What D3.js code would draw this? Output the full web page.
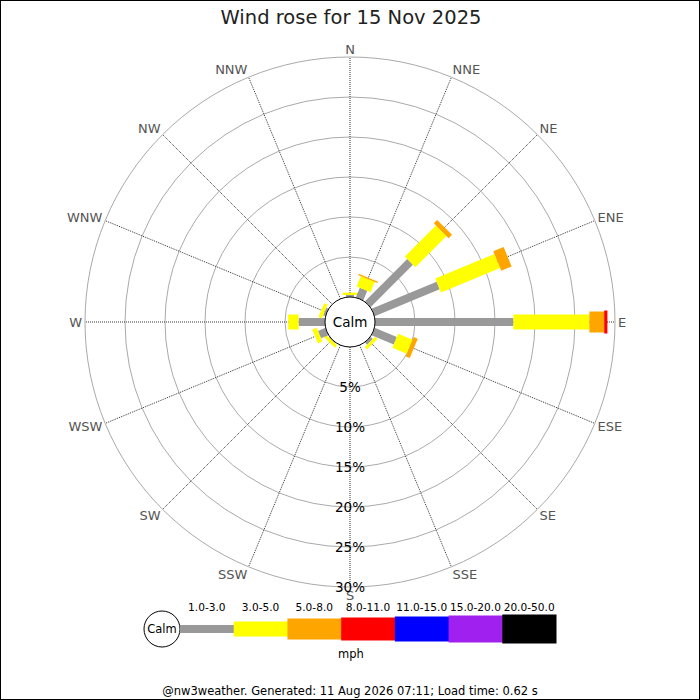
<!DOCTYPE html>
<html><head><meta charset="utf-8">
<script src="https://cdn.jsdelivr.net/npm/d3@7"></script>
<style>html,body{margin:0;padding:0;background:#fff}svg{display:block;font-family:"DejaVu Sans",sans-serif}</style>
</head><body>
<svg id="c" width="700" height="700"></svg>
<script>
const title = "Wind rose for 15 Nov 2025";
const footer = "@nw3weather. Generated: 11 Aug 2026 07:11; Load time: 0.62 s";
const directions = ["N","NNE","NE","ENE","E","ESE","SE","SSE","S","SSW","SW","WSW","W","WNW","NW","NNW"];
const bandLabels = ["1.0-3.0","3.0-5.0","5.0-8.0","8.0-11.0","11.0-15.0","15.0-20.0","20.0-50.0"];
const bandColors = ["#999999","#ffff00","#ffa500","#ff0000","#0000ff","#a020f0","#000000"];
const bandWidths = [8,15,21,23,25,27,29];
const unitLabel = "mph";
const ringTicks = [5,10,15,20,25,30];
// percent of time per band (1.0-3.0, 3.0-5.0, 5.0-8.0, 8.0-11.0) for each direction
const band1 = [0.25,1.3,7.5,8.8,17.3,3.0,0.4,0,0,0,0.1,1.0,3.3,0.3,0,0];
const band2 = [0.3,1.4,5.5,8.0,9.5,1.95,0.4,0,0,0,0.4,0.6,1.3,0.45,0,0];
const band3 = [0,0.15,0.6,1.4,1.85,0.55,0,0,0,0,0,0,0,0,0,0];
const band4 = [0,0,0,0,0.4,0,0,0,0,0,0,0,0,0,0,0];
const bands = [band1,band2,band3,band4];

const svg = d3.select("#c");
const cx = 350, cy = 322, calmR = 25;
const r = d3.scaleLinear().domain([0,30]).range([calmR,265]);
const ang = d3.scalePoint().domain(directions).range([0,337.5]);

svg.append("rect").attr("x",0.5).attr("y",0.5).attr("width",699).attr("height",699)
  .attr("fill","#fff").attr("stroke","#000").attr("stroke-width",1);

svg.append("text").attr("x",351).attr("y",24).attr("text-anchor","middle")
  .attr("font-size",19.5).attr("fill","#222").text(title);

const g = svg.append("g").attr("transform",`translate(${cx},${cy})`);

g.selectAll("circle.ring").data(ringTicks).join("circle").attr("class","ring")
  .attr("r",d=>r(d)).attr("fill","none").attr("stroke","#aaa").attr("stroke-width",1);

g.selectAll("line.spoke").data(directions).join("line").attr("class","spoke")
  .attr("x1",d=>calmR*Math.sin(ang(d)*Math.PI/180))
  .attr("y1",d=>-calmR*Math.cos(ang(d)*Math.PI/180))
  .attr("x2",d=>r(30)*Math.sin(ang(d)*Math.PI/180))
  .attr("y2",d=>-r(30)*Math.cos(ang(d)*Math.PI/180))
  .attr("stroke","#333").attr("stroke-width",1).attr("stroke-dasharray","1,1");

g.selectAll("text.dir").data(directions).join("text").attr("class","dir")
  .each(function(d){
    const a = ang(d)*Math.PI/180, s = Math.sin(a), c = Math.cos(a);
    const R = 268;
    d3.select(this).attr("x",R*s).attr("y",-R*c - c*5 + 4.5)
      .attr("text-anchor", s>0.1?"start":(s<-0.1?"end":"middle"));
  })
  .attr("font-size",13).attr("fill","#555").text(d=>d);

// bars
directions.forEach((d,i)=>{
  let cum = 0;
  const segs = [];
  bands.forEach((b,k)=>{ const v=b[i]; if(v>0){ segs.push({k,r0:cum,r1:cum+v}); } cum+=v; });
  const gg = g.append("g").attr("transform",`rotate(${ang(d)-90})`);
  gg.selectAll("rect").data(segs).join("rect")
    .attr("x",s=>r(s.r0)).attr("width",s=>r(s.r1)-r(s.r0))
    .attr("y",s=>-bandWidths[s.k]/2).attr("height",s=>bandWidths[s.k])
    .attr("fill",s=>bandColors[s.k]);
});

g.append("circle").attr("r",calmR).attr("fill","#fff").attr("stroke","#000").attr("stroke-width",1);
g.append("text").attr("y",5).attr("text-anchor","middle").attr("font-size",13.5).attr("fill","#000").text("Calm");

g.selectAll("text.pct").data(ringTicks).join("text").attr("class","pct")
  .attr("x",0).attr("y",d=>r(d)+5).attr("text-anchor","middle")
  .attr("font-size",13.5).attr("fill","#000").text(d=>d+"%");

// legend
const ly = 629;
const lx = d3.scaleBand().domain(bandLabels).range([180,556]);
svg.append("circle").attr("cx",162).attr("cy",ly).attr("r",18).attr("fill","#fff").attr("stroke","#000");
svg.append("text").attr("x",162).attr("y",ly+4).attr("text-anchor","middle").attr("font-size",11.5).text("Calm");
svg.selectAll("rect.leg").data(bandLabels).join("rect").attr("class","leg")
  .attr("x",d=>lx(d)).attr("width",lx.bandwidth()+0.5)
  .attr("y",(d,i)=>ly-bandWidths[i]/2).attr("height",(d,i)=>bandWidths[i])
  .attr("fill",(d,i)=>bandColors[i]);
svg.selectAll("text.leg").data(bandLabels).join("text").attr("class","leg")
  .attr("x",d=>lx(d)+lx.bandwidth()/2).attr("y",611).attr("text-anchor","middle")
  .attr("font-size",10.6).attr("fill","#000").text(d=>d);
svg.append("text").attr("x",351).attr("y",658).attr("text-anchor","middle").attr("font-size",11.5).text(unitLabel);

svg.append("text").attr("x",350).attr("y",695).attr("text-anchor","middle").attr("font-size",11.5).attr("fill","#000").text(footer);
</script>
</body></html>
